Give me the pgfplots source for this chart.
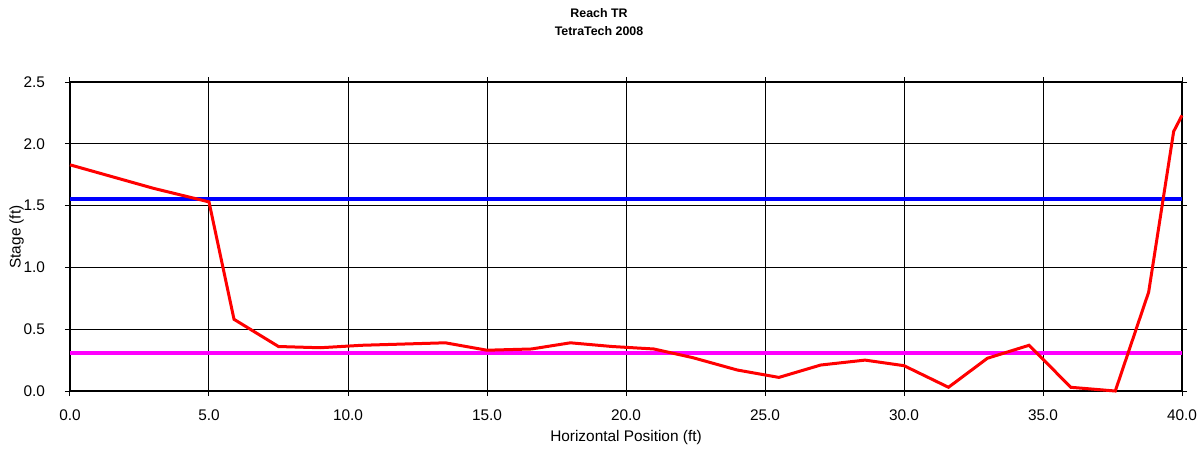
\documentclass[border=0pt]{standalone}
\usepackage{pgfplots}
\pgfplotsset{compat=1.18}
\usepackage{fontspec}
\setmainfont{Liberation Sans}
\definecolor{mag}{RGB}{255,0,255}
\definecolor{blu}{RGB}{0,0,255}
\definecolor{rd}{RGB}{255,0,0}
\begin{document}
\begin{tikzpicture}
\path[use as bounding box] (-35pt,-30.5pt) rectangle (564.5pt,195.5pt);
\begin{axis}[
  scale only axis, width=556pt, height=154.5pt,
  xmin=0, xmax=40, ymin=0, ymax=2.5,
  xtick={0,5,...,40}, ytick={0,0.5,...,2.5},
  grid=major, major grid style={black, line width=0.5pt},
  axis line style={black, line width=0.6pt},
  tick style={black, line width=0.5pt}, tick align=outside, major tick length=2.5pt,
  xticklabel style={/pgf/number format/.cd, fixed, fixed zerofill, precision=1, /tikz/.cd, yshift=-3.5pt},
  yticklabel style={/pgf/number format/.cd, fixed, fixed zerofill, precision=1, /tikz/.cd, xshift=-6.5pt},
  /pgf/number format/assume math mode=true,
  ticklabel style={font=\fontsize{7.7pt}{9pt}\selectfont},
  xlabel={Horizontal Position (ft)},
  xlabel style={font=\fontsize{7.7pt}{9pt}\selectfont, at={(axis description cs:0.5,0)}, anchor=center, yshift=-23.5pt},
  clip=false,
]
\addplot[blu, line width=2pt] coordinates {(0,1.55) (40,1.55)};
\addplot[mag, line width=2pt] coordinates {(0,0.305) (40,0.305)};
\addplot[rd, line width=1.5pt] coordinates {
(0,1.83) (3.0,1.64) (5.0,1.53) (5.9,0.58) (7.5,0.36) (9.0,0.35)
(10.5,0.37) (12.0,0.38) (13.5,0.39) (15.0,0.33) (16.6,0.34) (18.0,0.39)
(19.5,0.36) (21.0,0.34) (22.4,0.27) (24.0,0.17) (25.5,0.11) (27.0,0.21)
(28.6,0.25) (30.0,0.205) (31.6,0.03) (33.0,0.265) (34.5,0.37) (36.0,0.03)
(37.6,0.0) (38.8,0.80) (39.7,2.10) (40.0,2.23)
};
\end{axis}
\node[rotate=90, font=\fontsize{7.7pt}{9pt}\selectfont] at (-26.7pt,77pt) {Stage (ft)};
\node[font=\bfseries\fontsize{6.2pt}{9pt}\selectfont, align=center] at (264.5pt,184.5pt) {Reach TR\\TetraTech 2008};
\end{tikzpicture}
\end{document}
